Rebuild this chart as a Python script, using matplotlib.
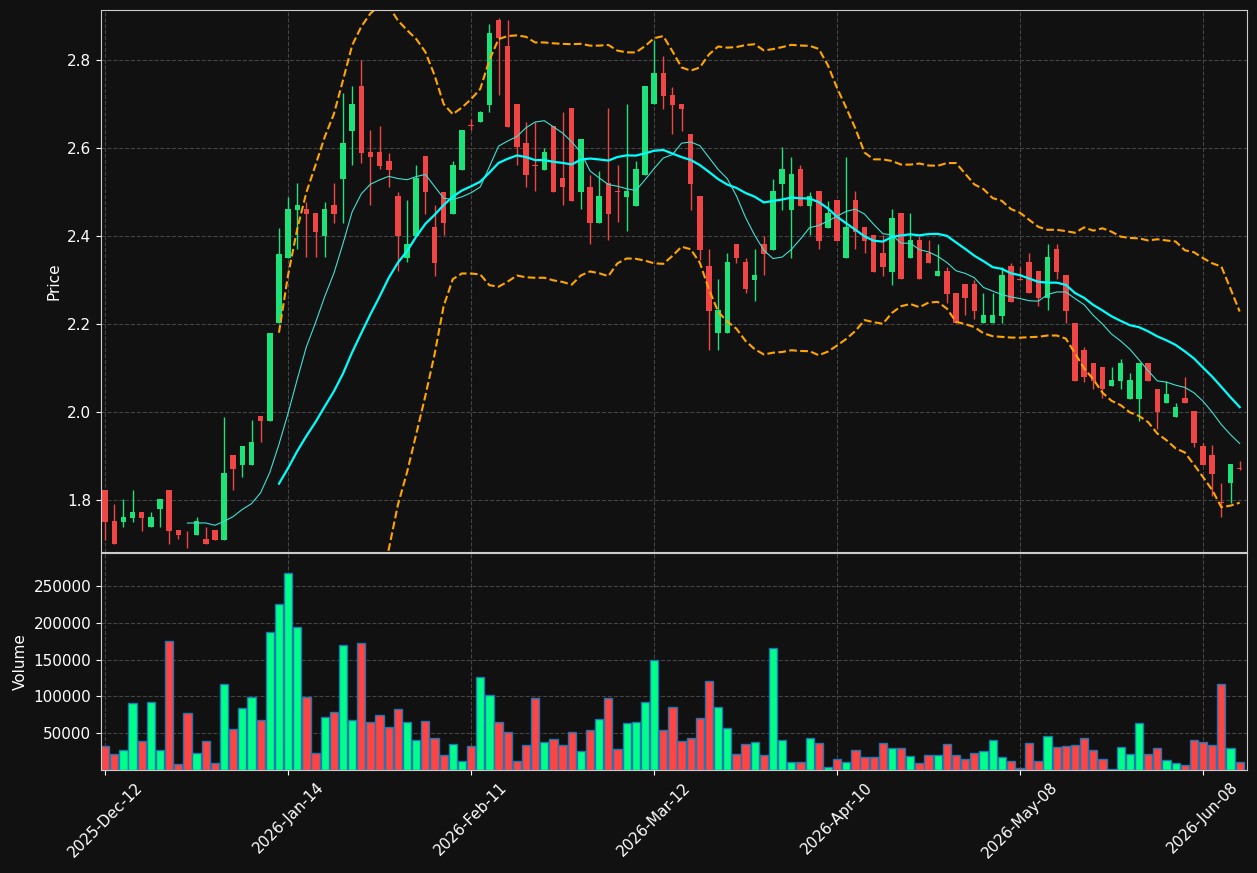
import numpy as np
import pandas as pd
import matplotlib
matplotlib.use("Agg")
import matplotlib.pyplot as plt

opens = [1.823,1.752,1.75,1.759,1.773,1.739,1.780,1.823,1.732,1.724,1.72,1.711,1.732,1.709,1.902,1.880,1.880,1.991,1.98,2.202,
         2.35,2.459,2.461,2.452,2.40,2.470,2.53,2.639,2.741,2.591,2.591,2.571,2.491,2.35,2.40,2.582,2.42,2.50,2.45,2.55,
         2.652,2.659,2.698,2.891,2.832,2.70,2.611,2.562,2.55,2.65,2.532,2.691,2.50,2.511,2.43,2.52,2.502,2.489,2.468,2.539,
         2.70,2.77,2.72,2.70,2.632,2.491,2.332,2.18,2.18,2.382,2.341,2.30,2.382,2.368,2.518,2.459,2.552,2.468,2.502,2.418,
         2.482,2.35,2.482,2.42,2.402,2.361,2.318,2.452,2.35,2.391,2.361,2.309,2.32,2.27,2.291,2.291,2.202,2.202,2.218,2.332,
         2.303,2.341,2.32,2.259,2.37,2.311,2.202,2.141,2.111,2.102,2.059,2.07,2.03,2.03,2.111,2.052,2.02,1.989,2.032,2.002,
         1.923,1.902,1.794,1.839,1.871]
closes = [1.75,1.70,1.761,1.773,1.759,1.761,1.802,1.730,1.72,1.722,1.752,1.70,1.709,1.861,1.870,1.923,1.932,1.980,2.18,2.36,
          2.461,2.47,2.45,2.409,2.461,2.45,2.611,2.70,2.589,2.58,2.559,2.55,2.40,2.382,2.532,2.50,2.339,2.43,2.561,2.641,
          2.650,2.682,2.861,2.85,2.648,2.602,2.539,2.560,2.591,2.50,2.511,2.48,2.62,2.43,2.491,2.45,2.501,2.502,2.552,2.741,
          2.77,2.718,2.698,2.689,2.518,2.368,2.23,2.232,2.341,2.35,2.279,2.311,2.359,2.502,2.552,2.541,2.468,2.491,2.389,2.452,
          2.389,2.42,2.409,2.389,2.318,2.33,2.441,2.302,2.391,2.302,2.339,2.32,2.268,2.202,2.259,2.23,2.22,2.22,2.311,2.25,
          2.301,2.27,2.259,2.352,2.318,2.23,2.07,2.08,2.07,2.052,2.073,2.111,2.073,2.111,2.07,2.0,2.041,2.011,2.02,1.93,
          1.88,1.86,1.793,1.882,1.870]
highs = [1.823,1.79,1.802,1.823,1.773,1.773,1.802,1.823,1.732,1.730,1.761,1.739,1.732,1.99,1.902,1.923,1.982,1.991,2.18,2.418,
         2.489,2.52,2.477,2.452,2.477,2.52,2.725,2.741,2.8,2.641,2.65,2.59,2.50,2.482,2.561,2.582,2.47,2.50,2.57,2.641,
         2.666,2.684,2.882,2.895,2.891,2.70,2.659,2.659,2.60,2.65,2.682,2.691,2.62,2.539,2.548,2.691,2.561,2.70,2.57,2.741,
         2.845,2.81,2.739,2.70,2.632,2.491,2.37,2.302,2.361,2.382,2.35,2.37,2.40,2.53,2.602,2.58,2.561,2.50,2.502,2.48,
         2.482,2.58,2.502,2.42,2.402,2.402,2.461,2.452,2.452,2.40,2.391,2.382,2.33,2.27,2.291,2.30,2.27,2.27,2.33,2.339,
         2.33,2.361,2.32,2.382,2.382,2.311,2.202,2.148,2.111,2.102,2.102,2.12,2.09,2.111,2.111,2.052,2.07,2.02,2.08,2.002,
         1.93,1.925,1.839,1.882,1.889]
lows = [1.709,1.70,1.739,1.75,1.73,1.739,1.739,1.70,1.711,1.691,1.72,1.70,1.709,1.709,1.823,1.852,1.880,1.932,1.98,2.202,
        2.35,2.37,2.352,2.352,2.352,2.43,2.43,2.561,2.566,2.47,2.552,2.511,2.32,2.341,2.40,2.45,2.309,2.402,2.45,2.55,
        2.641,2.659,2.682,2.72,2.648,2.561,2.511,2.502,2.55,2.50,2.47,2.48,2.461,2.382,2.43,2.391,2.432,2.411,2.468,2.539,
        2.70,2.69,2.632,2.639,2.459,2.345,2.141,2.141,2.18,2.339,2.27,2.252,2.311,2.368,2.459,2.35,2.468,2.402,2.37,2.418,
        2.389,2.35,2.37,2.361,2.318,2.309,2.289,2.302,2.35,2.302,2.339,2.309,2.248,2.202,2.22,2.211,2.202,2.202,2.202,2.25,
        2.30,2.27,2.241,2.232,2.302,2.202,2.07,2.068,2.052,2.032,2.059,2.052,2.03,1.98,2.07,1.961,2.02,1.989,2.02,1.92,
        1.88,1.809,1.761,1.793,1.868]
volumes = [32400,21600,27000,90500,39200,91900,27000,175700,8100,77000,23000,39200,9500,116200,55400,83800,98600,67600,187800,225700,
           267600,194600,98600,23000,71600,78400,170300,67600,173000,64900,74300,58100,82400,64900,40500,66200,43200,20300,35100,12200,
           32400,125700,101400,64900,51400,12200,33800,97300,37800,41900,33800,51400,25700,54100,68900,97300,28400,63500,64900,91900,
           150000,54100,86000,39200,43200,70300,120300,85100,56800,21600,35100,37800,20300,166200,40500,10800,10800,43200,36500,4000,
           14900,10800,27000,17600,17600,36500,29700,29700,18900,9500,20300,20300,35100,20300,14900,23000,25700,40500,17600,12200,
           2700,36500,12200,46000,31100,32400,33800,43200,27000,14900,1400,31100,21600,63500,21600,29700,13500,9500,6800,40500,
           37800,33800,116200,29700,10800]
tick_labels = ["2025-Dec-12","2026-Jan-14","2026-Feb-11","2026-Mar-12","2026-Apr-10","2026-May-08","2026-Jun-08"]
tick_pos = [0,20,40,60,80,100,120]

BG = "#111111"
UP, DN = "#1de27a", "#f04545"
VUP, VDN = "#00ff88", "#ff4444"

x = np.arange(len(closes))
c = pd.Series(closes)
sma20 = c.rolling(20).mean()
sma10 = c.rolling(10).mean()
sd20 = c.rolling(20).std()
upper, lower = sma20 + 2*sd20, sma20 - 2*sd20

fig = plt.figure(figsize=(12.57, 8.73), dpi=100, facecolor=BG)
ax = fig.add_axes([101/1257, 1-552/873, 1146/1257, 542/873])
axv = fig.add_axes([101/1257, 1-770/873, 1146/1257, 217/873], sharex=ax)
for a in (ax, axv):
    a.set_facecolor(BG)
    for s in a.spines.values():
        s.set_color("#cccccc")
    a.tick_params(colors="white", labelsize=11)
    a.grid(True, color="#444444", linestyle="--", linewidth=0.8)
    a.set_axisbelow(True)

up = np.array(closes) >= np.array(opens)
for i in x:
    col = UP if up[i] else DN
    ax.vlines(i, lows[i], highs[i], color=col, linewidth=1)
    b0 = min(opens[i], closes[i]); h = max(abs(closes[i]-opens[i]), 0.002)
    ax.bar(i, h, bottom=b0, width=0.6, color=col)

ax.plot(x, sma10, color="#40e0d0", lw=0.8)
ax.plot(x, sma20, color="#00ffff", lw=1.6)
ax.plot(x, upper, color="orange", lw=1.5, ls="--")
ax.plot(x, lower, color="orange", lw=1.5, ls="--")
ax.set_ylim(1.682, 2.914)
ax.set_yticks([1.8,2.0,2.2,2.4,2.6,2.8])
ax.set_ylabel("Price", color="white", fontsize=11)
plt.setp(ax.get_xticklabels(), visible=False)

axv.bar(x, volumes, width=0.9, color=[VUP if u else VDN for u in up], edgecolor="#1f77b4", linewidth=1)
axv.set_ylim(0, 294600)
axv.set_yticks([50000,100000,150000,200000,250000])
axv.set_yticklabels(["50000","100000","150000","200000","250000"])
axv.set_ylabel("Volume", color="white", fontsize=11)
axv.set_xlim(-0.45, 124.8)
axv.set_xticks(tick_pos)
axv.set_xticklabels(tick_labels, rotation=45, ha="center")

fig.savefig("out.png", dpi=100, facecolor=BG)
